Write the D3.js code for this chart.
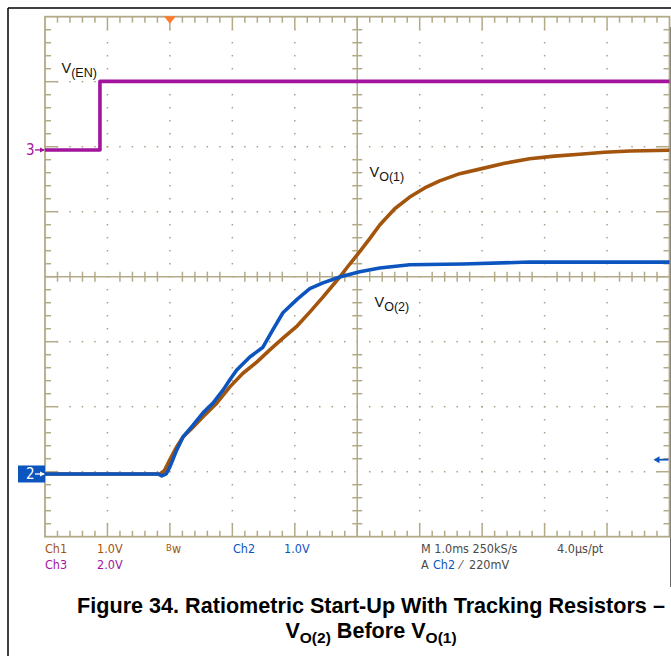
<!DOCTYPE html>
<html>
<head>
<meta charset="utf-8">
<script src="https://cdn.jsdelivr.net/npm/d3@7"></script>
<style>
  html, body { margin: 0; padding: 0; background: #fff; }
  svg { display: block; }
  .tek { font-family: "Liberation Sans Narrow", "DejaVu Sans Condensed", "Liberation Sans", sans-serif; font-size: 12.5px; }
  .lbl { font-family: "Liberation Sans", Arial, sans-serif; fill: #111; }
  .cap { font-family: "Liberation Sans", Arial, sans-serif; font-weight: bold; fill: #000; }
</style>
</head>
<body>
<svg id="chart" width="671" height="656"></svg>
<script>
// Time base: 1.0 ms/div, 10 divisions, trigger 2 divisions from the left
const timeDomainMs = [-2, 8];

// Ch1 = V_O(1), 1.0 V/div
const ch1TimeMs = [-2.00, -0.16, -0.09, 0.00, 0.11, 0.21, 0.37, 0.53, 0.75, 0.96, 1.17, 1.39, 1.60, 1.81, 2.04, 2.24, 2.45, 2.72, 2.88, 3.04, 3.20, 3.36, 3.60, 3.84, 4.08, 4.32, 4.64, 4.96, 5.36, 5.76, 6.16, 6.56, 6.96, 7.37, 8.00];
const ch1Volts  = [0.00, 0.00, 0.05, 0.22, 0.42, 0.57, 0.72, 0.88, 1.09, 1.34, 1.55, 1.72, 1.91, 2.09, 2.28, 2.49, 2.72, 3.03, 3.23, 3.42, 3.62, 3.83, 4.08, 4.26, 4.40, 4.51, 4.62, 4.69, 4.78, 4.85, 4.89, 4.92, 4.95, 4.97, 4.98];

// Ch2 = V_O(2), 1.0 V/div
const ch2TimeMs = [-2.00, -0.19, -0.13, -0.06, 0.00, 0.11, 0.21, 0.37, 0.53, 0.69, 0.85, 0.96, 1.07, 1.28, 1.49, 1.65, 1.81, 2.04, 2.24, 2.45, 2.72, 3.04, 3.36, 3.84, 4.69, 5.76, 8.00];
const ch2Volts  = [0.00, 0.00, -0.03, 0.00, 0.11, 0.37, 0.57, 0.75, 0.94, 1.09, 1.29, 1.45, 1.60, 1.80, 1.95, 2.22, 2.48, 2.69, 2.85, 2.94, 3.03, 3.11, 3.17, 3.22, 3.23, 3.26, 3.26];

// Ch3 = V(EN), 2.0 V/div
const ch3TimeMs = [-2.00, -1.12, -1.12, 8.00];
const ch3Volts  = [0.00, 0.00, 2.11, 2.11];

// Channel settings (volts per division, ground marker position in divisions from centre)
const voltsPerDiv = { ch1: 1.0, ch2: 1.0, ch3: 2.0 };
const groundDiv   = { ch1: -3.035, ch2: -3.035, ch3: 1.95 };
const triggerLevelV = 0.22;   // A Ch2 rising, 220 mV

const colors = {
  ch1: "#a3540d",
  ch2: "#0d55be",
  ch3: "#a2149e",
  grid: "#b3aa88",
  dot: "#a8a084",
  readout: "#4a4a4a"
};

const svg = d3.select("#chart");

// Screen geometry
const scrLeft = 45, scrRight = 669.5, scrTop = 16.7, scrBottom = 536.7;
const x = d3.scaleLinear().domain(timeDomainMs).range([scrLeft, scrRight]);
const yDiv = d3.scaleLinear().domain([4, -4]).range([scrTop, scrBottom]);
const xDiv = d3.scaleLinear().domain([0, 10]).range([scrLeft, scrRight]);

// Outer page frame
svg.append("line").attr("x1", 8).attr("x2", 671).attr("y1", 8).attr("y2", 8)
  .attr("stroke", "#000").attr("stroke-width", 1.5);
svg.append("line").attr("x1", 8).attr("x2", 8).attr("y1", 8).attr("y2", 656)
  .attr("stroke", "#000").attr("stroke-width", 1.5);
svg.append("line").attr("x1", 670.5).attr("x2", 670.5).attr("y1", 27).attr("y2", 587)
  .attr("stroke", "#6b6b6b").attr("stroke-width", 1);

// Graticule
const grat = svg.append("g");
const minorX = d3.range(0, 50.001, 1).map(i => i / 5);   // divisions 0..10 in 0.2 steps
const minorY = d3.range(-20, 20.001, 1).map(i => i / 5); // divisions -4..4 in 0.2 steps
const isMajor = v => Math.abs(v - Math.round(v)) < 1e-6;

// dotted major lines
[1, 2, 3, 4, 6, 7, 8, 9].forEach(d => {
  grat.selectAll(null).data(minorY.filter(v => v > -4 && v < 4)).enter().append("rect")
    .attr("x", xDiv(d) - 0.75).attr("y", v => yDiv(v) - 0.75)
    .attr("width", 1.5).attr("height", 1.5).attr("fill", colors.dot);
});
[-3, -2, -1, 1, 2, 3].forEach(d => {
  grat.selectAll(null).data(minorX.filter(v => v > 0 && v < 10)).enter().append("rect")
    .attr("x", v => xDiv(v) - 0.75).attr("y", yDiv(d) - 0.75)
    .attr("width", 1.5).attr("height", 1.5).attr("fill", colors.dot);
});

// border
grat.append("rect").attr("x", scrLeft).attr("y", scrTop)
  .attr("width", scrRight - scrLeft).attr("height", scrBottom - scrTop)
  .attr("fill", "none").attr("stroke", colors.grid).attr("stroke-width", 1.8);

// centre cross
grat.append("line").attr("x1", xDiv(5)).attr("x2", xDiv(5)).attr("y1", scrTop).attr("y2", scrBottom)
  .attr("stroke", colors.grid).attr("stroke-width", 1.5);
grat.append("line").attr("x1", scrLeft).attr("x2", scrRight).attr("y1", yDiv(0)).attr("y2", yDiv(0))
  .attr("stroke", colors.grid).attr("stroke-width", 1.5);

const tick = (x1, y1, x2, y2) => grat.append("line")
  .attr("x1", x1).attr("y1", y1).attr("x2", x2).attr("y2", y2)
  .attr("stroke", colors.grid).attr("stroke-width", 1.5);

minorX.filter(v => v > 0 && v < 10).forEach(v => {
  const px = xDiv(v);
  const len = isMajor(v) ? 13 : 6;
  tick(px, scrTop, px, scrTop + len);
  tick(px, scrBottom, px, scrBottom - len);
  if (!isMajor(v)) tick(px, yDiv(0) - 5, px, yDiv(0) + 5);
});
minorY.filter(v => v > -4 && v < 4).forEach(v => {
  const py = yDiv(v);
  const len = isMajor(v) ? 13 : 6;
  tick(scrLeft, py, scrLeft + len, py);
  tick(scrRight, py, scrRight - len, py);
  if (!isMajor(v)) tick(xDiv(5) - 5, py, xDiv(5) + 5, py);
});

// Traces
function channelY(ch) {
  const g0 = yDiv(groundDiv[ch]);
  const pxPerDiv = yDiv(0) - yDiv(1);
  return v => g0 - v / voltsPerDiv[ch] * pxPerDiv;
}
function drawTrace(ch, times, volts) {
  const yc = channelY(ch);
  const pts = times.map((t, i) => [x(t), yc(volts[i])]);
  svg.append("path")
    .attr("d", d3.line().curve(d3.curveLinear)(pts))
    .attr("fill", "none").attr("stroke", colors[ch])
    .attr("stroke-width", 3.6).attr("stroke-linejoin", "round");
}
drawTrace("ch3", ch3TimeMs, ch3Volts);
drawTrace("ch1", ch1TimeMs, ch1Volts);
drawTrace("ch2", ch2TimeMs, ch2Volts);

// Trigger position marker (top)
const tx = x(0);
svg.append("path")
  .attr("d", `M${tx - 6},${scrTop - 0.5} L${tx + 6},${scrTop - 0.5} L${tx},${scrTop + 7} Z`)
  .attr("fill", "#ff7b2e");

// Trigger level marker (right)
const ty = channelY("ch2")(triggerLevelV);
svg.append("line").attr("x1", scrRight - 1).attr("x2", scrRight - 14).attr("y1", ty).attr("y2", ty)
  .attr("stroke", colors.ch2).attr("stroke-width", 1.8);
svg.append("path").attr("d", `M${scrRight - 16},${ty} L${scrRight - 10},${ty - 3.5} L${scrRight - 10},${ty + 3.5} Z`)
  .attr("fill", colors.ch2);

// Ground markers on the left
const g3 = channelY("ch3")(0);
svg.append("text").attr("class", "tek").attr("x", 26).attr("y", g3 + 5.5)
  .attr("fill", colors.ch3).style("font-size", "15px").text("3");
svg.append("line").attr("x1", 35).attr("x2", 44).attr("y1", g3).attr("y2", g3)
  .attr("stroke", colors.ch3).attr("stroke-width", 1.3);
svg.append("path").attr("d", `M${45},${g3} L${40},${g3 - 2.5} L${40},${g3 + 2.5} Z`).attr("fill", colors.ch3);

const g2 = channelY("ch2")(0);
svg.append("rect").attr("x", 18).attr("y", g2 - 8.5).attr("width", 27).attr("height", 17).attr("fill", colors.ch2);
svg.append("text").attr("class", "tek").attr("x", 26).attr("y", g2 + 5.5)
  .attr("fill", "#fff").style("font-size", "15px").text("2");
svg.append("line").attr("x1", 35).attr("x2", 44).attr("y1", g2).attr("y2", g2)
  .attr("stroke", "#fff").attr("stroke-width", 1.3);
svg.append("path").attr("d", `M${45},${g2} L${40},${g2 - 2.5} L${40},${g2 + 2.5} Z`).attr("fill", "#fff");

// Trace labels
function subLabel(px, py, main, sub) {
  const t = svg.append("text").attr("class", "lbl").attr("x", px).attr("y", py).style("font-size", "14.5px");
  t.append("tspan").text(main);
  t.append("tspan").attr("dy", 3.5).style("font-size", "12.5px").text(sub);
}
subLabel(61.5, 73, "V", "(EN)");
subLabel(369.5, 177, "V", "O(1)");
subLabel(374.5, 307, "V", "O(2)");

// Scope readout
const r1 = 553, r2 = 569;
function tek(px, py, txt, col) {
  return svg.append("text").attr("class", "tek").attr("x", px).attr("y", py).attr("fill", col).text(txt);
}
tek(45, r1, "Ch1", colors.ch1);
tek(97, r1, "1.0V", colors.ch1);
const bw = svg.append("text").attr("class", "tek").attr("x", 166).attr("y", r1).attr("fill", colors.ch1);
bw.append("tspan").attr("dy", -2).style("font-size", "9.5px").text("B");
bw.append("tspan").attr("dy", 2).text("w");
tek(233, r1, "Ch2", colors.ch2);
tek(284, r1, "1.0V", colors.ch2);
tek(421, r1, "M 1.0ms 250kS/s", colors.readout);
tek(557, r1, "4.0µs/pt", colors.readout);
tek(45, r2, "Ch3", colors.ch3);
tek(97, r2, "2.0V", colors.ch3);
tek(421, r2, "A", colors.readout);
tek(433, r2, "Ch2", colors.ch2);
tek(460, r2, "⁄", colors.readout);
tek(469, r2, "220mV", colors.readout);

// Figure caption
const capCx = 371;
svg.append("text").attr("class", "cap").attr("x", capCx).attr("y", 613)
  .attr("text-anchor", "middle").style("font-size", "21.6px")
  .text("Figure 34. Ratiometric Start-Up With Tracking Resistors –");
const line2 = svg.append("text").attr("class", "cap").attr("x", capCx).attr("y", 638)
  .attr("text-anchor", "middle").style("font-size", "21.6px");
line2.append("tspan").text("V");
line2.append("tspan").attr("dy", 5).style("font-size", "15.5px").text("O(2)");
line2.append("tspan").attr("dy", -5).text(" Before V");
line2.append("tspan").attr("dy", 5).style("font-size", "15.5px").text("O(1)");
</script>
</body>
</html>
